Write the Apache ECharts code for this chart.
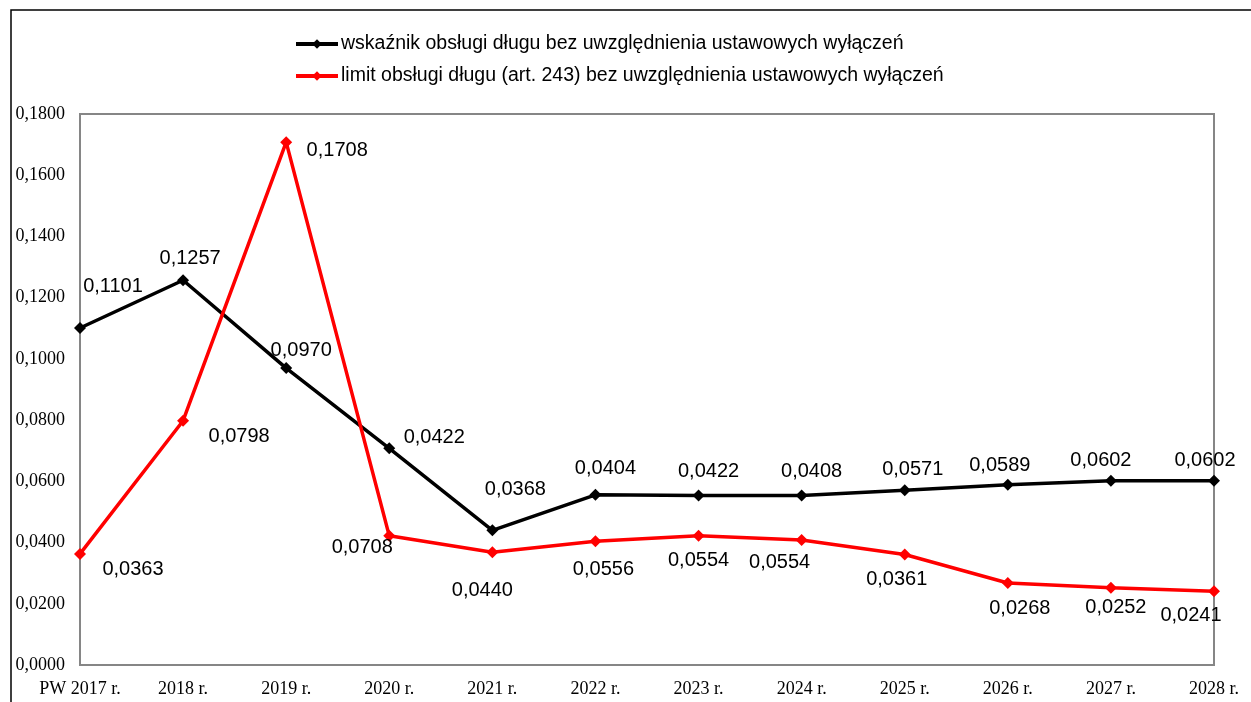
<!DOCTYPE html>
<html lang="pl">
<head>
<meta charset="UTF-8" />
<title>Wskaźnik obsługi długu</title>
<style>
  html, body { margin: 0; padding: 0; background: #fff; }
  #chart { width: 1251px; height: 702px; }
</style>
</head>
<body>
<div id="chart"></div>
<script src="https://cdn.jsdelivr.net/npm/echarts@6/dist/echarts.min.js"></script>
<script>
// dane
const years = ['PW 2017 r.', '2018 r.', '2019 r.', '2020 r.', '2021 r.', '2022 r.',
               '2023 r.', '2024 r.', '2025 r.', '2026 r.', '2027 r.', '2028 r.'];
const wskaznik = [0.1101, 0.1257, 0.0970, 0.0708, 0.0440, 0.0556,
                  0.0554, 0.0554, 0.0571, 0.0589, 0.0602, 0.0602];
const limit = [0.0363, 0.0798, 0.1708, 0.0422, 0.0368, 0.0404,
               0.0422, 0.0408, 0.0361, 0.0268, 0.0252, 0.0241];
// etykiety tak jak wydrukowane na wykresie
const wskaznikLabels = ['0,1101', '0,1257', '0,0970', '0,0422', '0,0368', '0,0404',
                        '0,0422', '0,0408', '0,0571', '0,0589', '0,0602', '0,0602'];
const limitLabels = ['0,0363', '0,0798', '0,1708', '0,0708', '0,0440', '0,0556',
                     '0,0554', '0,0554', '0,0361', '0,0268', '0,0252', '0,0241'];
const yTicks = { min: 0, max: 0.18, step: 0.02 };

// przesunięcia etykiet (px)
const blackShift = [[33, -41], [7, -22], [15, -18], [45, -11], [23, -41], [10, -26],
                    [10, -24], [10, -24], [8, -21], [-8, -19], [-10, -20], [-9, -20]];
const redShift = [[53, 16], [56, 16], [51, 8], [-27, 12], [-10, 38], [8, 28],
                  [0, 25], [-22, 22], [-8, 25], [12, 26], [5, 20], [-23, 24]];

function withLabels(vals, texts, shifts) {
  return vals.map((v, i) => ({
    value: v,
    label: { formatter: texts[i], offset: shifts[i] }
  }));
}

const chart = echarts.init(document.getElementById('chart'));

const labelStyle = {
  show: true,
  position: 'inside',
  fontFamily: 'Liberation Sans, Arial, sans-serif',
  fontSize: 20,
  color: '#000',
  align: 'center',
  verticalAlign: 'middle'
};

chart.setOption({
  animation: false,
  graphic: [{
    type: 'rect',
    shape: { x: 11, y: 10, width: 1400, height: 900 },
    style: { fill: 'none', stroke: '#000', lineWidth: 1.5 },
    silent: true
  }],
  legend: {
    orient: 'vertical',
    left: 289,
    top: 29,
    itemWidth: 42,
    itemHeight: 12,
    itemGap: 12,
    lineStyle: { width: 4 },
    textStyle: {
      fontFamily: 'Liberation Sans, Arial, sans-serif',
      fontSize: 19.5,
      color: '#000',
      padding: [0, 0, 0, -2]
    }
  },
  grid: {
    left: 80, right: 37, top: 114, bottom: 37,
    show: true,
    borderColor: '#868686',
    borderWidth: 2
  },
  xAxis: {
    type: 'category',
    data: years,
    boundaryGap: false,
    axisLine: { show: false },
    axisTick: { show: false },
    axisLabel: {
      margin: 15,
      fontFamily: 'Liberation Serif, Times New Roman, serif',
      fontSize: 18,
      color: '#000',
      interval: 0
    }
  },
  yAxis: {
    type: 'value',
    min: yTicks.min,
    max: yTicks.max,
    interval: yTicks.step,
    splitLine: { show: false },
    axisLine: { show: false },
    axisTick: { show: false },
    axisLabel: {
      margin: 15,
      fontFamily: 'Liberation Serif, Times New Roman, serif',
      fontSize: 18,
      color: '#000',
      formatter: v => v.toFixed(4).replace('.', ',')
    }
  },
  series: [
    {
      name: 'wskaźnik obsługi długu bez uwzględnienia ustawowych wyłączeń',
      type: 'line',
      data: withLabels(wskaznik, wskaznikLabels, blackShift),
      symbol: 'diamond',
      symbolSize: 12,
      lineStyle: { color: '#000', width: 3.5 },
      itemStyle: { color: '#000' },
      label: labelStyle
    },
    {
      name: 'limit obsługi długu (art. 243) bez uwzględnienia ustawowych wyłączeń',
      type: 'line',
      data: withLabels(limit, limitLabels, redShift),
      symbol: 'diamond',
      symbolSize: 12,
      lineStyle: { color: '#ff0000', width: 3.5 },
      itemStyle: { color: '#ff0000' },
      label: labelStyle
    }
  ]
});
</script>
</body>
</html>
